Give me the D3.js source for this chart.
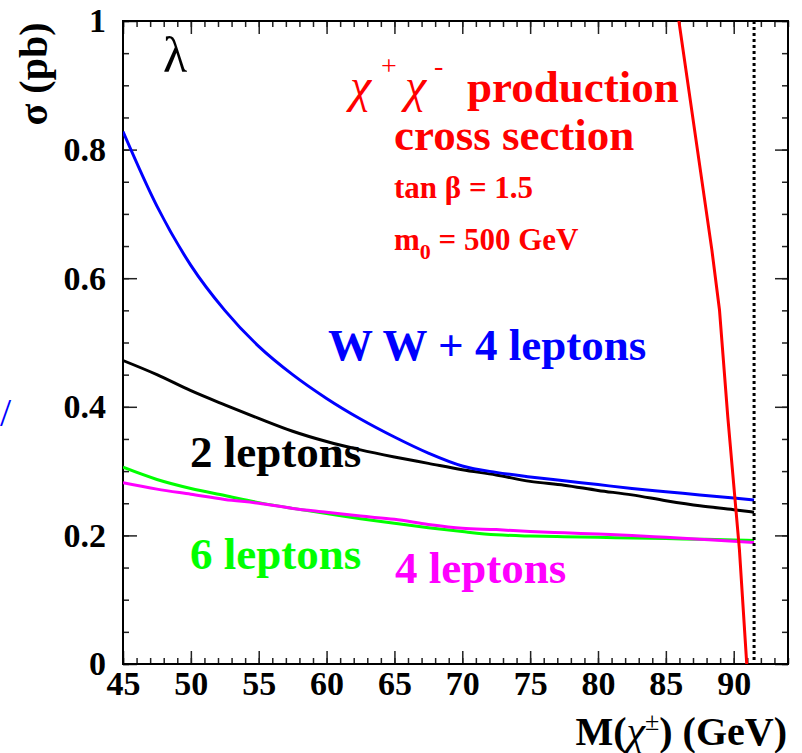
<!DOCTYPE html>
<html>
<head>
<meta charset="utf-8">
<script src="https://d3js.org/d3.v7.min.js"></script>
<style>
  body { margin: 0; background: #fff; }
  svg, svg text, svg tspan { font-family: "Liberation Serif", Times, "Times New Roman", "DejaVu Serif", serif !important; }
  svg text { font-weight: bold; }
  .tick line { stroke: #222; stroke-width: 1.5; }
  .tick text { font-size: 34px; fill: #000; }
  .curve { fill: none; stroke-width: 3; stroke-linejoin: round; }
  .greek { font-weight: normal; font-style: italic; }
</style>
</head>
<body>
<div id="chart"></div>
<script>
// chargino mass grid (GeV) shared by the four channel curves
const mass = [45, 47.5, 50, 52.5, 55, 57.5, 60, 62.5, 65, 67.5, 70, 72.5, 75, 77.5, 80, 82.5, 85, 87.5, 90, 91.5];

// sigma (pb) per channel
const wwPlus4 = [0.828, 0.712, 0.620, 0.550, 0.494, 0.450, 0.413, 0.381, 0.353, 0.328, 0.308, 0.298, 0.291, 0.285, 0.279, 0.273, 0.268, 0.263, 0.258, 0.255];
const twoLep  = [0.472, 0.450, 0.425, 0.403, 0.382, 0.362, 0.346, 0.333, 0.322, 0.312, 0.302, 0.294, 0.284, 0.278, 0.270, 0.263, 0.254, 0.246, 0.240, 0.236];
const sixLep  = [0.306, 0.287, 0.273, 0.262, 0.251, 0.242, 0.234, 0.226, 0.219, 0.212, 0.206, 0.201, 0.199, 0.198, 0.197, 0.196, 0.195, 0.194, 0.193, 0.192];
const fourLep = [0.282, 0.272, 0.264, 0.256, 0.250, 0.242, 0.236, 0.230, 0.225, 0.217, 0.211, 0.209, 0.206, 0.204, 0.202, 0.200, 0.197, 0.194, 0.191, 0.189];

// chi+ chi- production cross section
const prodMass  = [85.96, 88.39, 88.95, 89.56, 90.42, 90.96];
const prodSigma = [1.0, 0.644, 0.551, 0.385, 0.178, 0.0];

// kinematic limit
const kinLimit = 91.5;

const xMajor = [45, 50, 55, 60, 65, 70, 75, 80, 85, 90];
const yMajor = [0, 0.2, 0.4, 0.6, 0.8, 1];

const W = 802, H = 753;
const svg = d3.select('#chart').append('svg')
  .attr('width', W).attr('height', H)
  .attr('font-family', 'Liberation Serif, Times, serif');

const x = d3.scaleLinear().domain([45, 94]).range([123, 788]);
const y = d3.scaleLinear().domain([0, 1]).range([664, 21]);

// clip for data
svg.append('clipPath').attr('id', 'plot')
  .append('rect')
  .attr('x', x(45)).attr('y', y(1))
  .attr('width', x(94) - x(45)).attr('height', y(0) - y(1));

// minor + major ticks on all four sides (pointing inwards)
const xMinor = d3.range(45, 94.01, 1);
const yMinor = d3.range(0, 1.001, 0.05);

function addAxis(axis, tf) {
  const g = svg.append('g').attr('transform', tf).call(axis);
  g.attr('font-family', null).attr('font-size', null);
  g.select('.domain').remove();
  return g;
}
addAxis(d3.axisBottom(x).tickValues(xMinor).tickSize(-6).tickFormat(''), `translate(0,${y(0)})`);
addAxis(d3.axisBottom(x).tickValues(xMajor).tickSize(-13).tickPadding(7).tickFormat(d3.format('d')), `translate(0,${y(0)})`);
addAxis(d3.axisTop(x).tickValues(xMinor).tickSize(-6).tickFormat(''), `translate(0,${y(1)})`);
addAxis(d3.axisTop(x).tickValues(xMajor).tickSize(-13).tickFormat(''), `translate(0,${y(1)})`);
addAxis(d3.axisLeft(y).tickValues(yMinor).tickSize(-6).tickFormat(''), `translate(${x(45)},0)`);
addAxis(d3.axisLeft(y).tickValues(yMajor).tickSize(-14).tickPadding(17)
  .tickFormat(d => d === 0 || d === 1 ? d3.format('d')(d) : d3.format('.1f')(d)), `translate(${x(45)},0)`);
addAxis(d3.axisRight(y).tickValues(yMinor).tickSize(-6).tickFormat(''), `translate(${x(94)},0)`);
addAxis(d3.axisRight(y).tickValues(yMajor).tickSize(-13).tickFormat(''), `translate(${x(94)},0)`);

// frame
svg.append('rect')
  .attr('x', x(45)).attr('y', y(1))
  .attr('width', x(94) - x(45)).attr('height', y(0) - y(1))
  .attr('fill', 'none').attr('stroke', '#000').attr('stroke-width', 2);

const line = d3.line().curve(d3.curveMonotoneX).x(d => x(d[0])).y(d => y(d[1]));
const plot = svg.append('g').attr('clip-path', 'url(#plot)');

const channels = [
  { vals: twoLep, color: '#000000' },
  { vals: sixLep, color: '#00ff00' },
  { vals: fourLep, color: '#ff00ff' },
  { vals: wwPlus4, color: '#0000ff' }
];
channels.forEach(c => {
  plot.append('path')
    .attr('class', 'curve')
    .attr('stroke', c.color)
    .attr('d', line(mass.map((m, i) => [m, c.vals[i]])));
});

plot.append('path')
  .attr('class', 'curve')
  .attr('stroke', '#ff0000')
  .attr('d', d3.line().x(d => x(d[0])).y(d => y(d[1]))(prodMass.map((m, i) => [m, prodSigma[i]])));

// kinematic limit, dotted
plot.append('line')
  .attr('x1', x(kinLimit)).attr('x2', x(kinLimit))
  .attr('y1', y(1)).attr('y2', y(0))
  .attr('stroke', '#000').attr('stroke-width', 3)
  .attr('stroke-dasharray', '3,3');

// axis titles
svg.append('text')
  .attr('transform', 'translate(47,74) rotate(-90)')
  .attr('text-anchor', 'middle')
  .style('font-size', '40px')
  .text('σ (pb)');

const xt = svg.append('text')
  .attr('x', 787).attr('y', 745)
  .attr('text-anchor', 'end')
  .style('font-size', '40px');
xt.append('tspan').text('M(');
xt.append('tspan').attr('class', 'greek').style('font-size', '42px').text('χ');
xt.append('tspan').attr('dy', -15).style('font-size', '26px').style('font-weight', 'normal').text('±');
xt.append('tspan').attr('dy', 15).text(') (GeV)');

// lambda label
svg.append('text')
  .attr('x', 163).attr('y', 72)
  .style('font-size', '50px').style('font-weight', 'normal')
  .text('λ');

// production text
const red = '#ff0000';
const t1 = svg.append('text').attr('y', 102).attr('fill', red).style('font-size', '45px');
t1.append('tspan').attr('x', 350).attr('class', 'greek').style('font-size', '48px').text('χ');
t1.append('tspan').attr('x', 381).attr('dy', -27).style('font-size', '28px').style('font-weight', 'normal').text('+');
t1.append('tspan').attr('x', 405).attr('dy', 27).attr('class', 'greek').style('font-size', '48px').text('χ');
t1.append('tspan').attr('x', 434).attr('dy', -27).style('font-size', '28px').style('font-weight', 'normal').text('-');
t1.append('tspan').attr('x', 467).attr('dy', 27).text('production');

svg.append('text').attr('x', 394).attr('y', 150).attr('fill', red)
  .style('font-size', '45px').text('cross section');
svg.append('text').attr('x', 394).attr('y', 198).attr('fill', red)
  .style('font-size', '31px').text('tan β = 1.5');
const t4 = svg.append('text').attr('x', 394).attr('y', 250).attr('fill', red).style('font-size', '31px');
t4.append('tspan').text('m');
t4.append('tspan').attr('dy', 9).style('font-size', '22px').text('0');
t4.append('tspan').attr('dy', -9).text(' = 500 GeV');

// channel labels
svg.append('text').attr('x', 328).attr('y', 360).attr('fill', '#0000ff')
  .style('font-size', '45px').text('W W + 4 leptons');
svg.append('text').attr('x', 190).attr('y', 467).attr('fill', '#000')
  .style('font-size', '45px').text('2 leptons');
svg.append('text').attr('x', 190).attr('y', 569).attr('fill', '#00ff00')
  .style('font-size', '45px').text('6 leptons');
svg.append('text').attr('x', 395).attr('y', 583).attr('fill', '#ff00ff')
  .style('font-size', '45px').text('4 leptons');

// stray glyph at the left edge
svg.append('text').attr('x', 0).attr('y', 426).attr('fill', '#0000ff')
  .style('font-size', '40px').style('font-weight', 'normal').text('/');
</script>
</body>
</html>
